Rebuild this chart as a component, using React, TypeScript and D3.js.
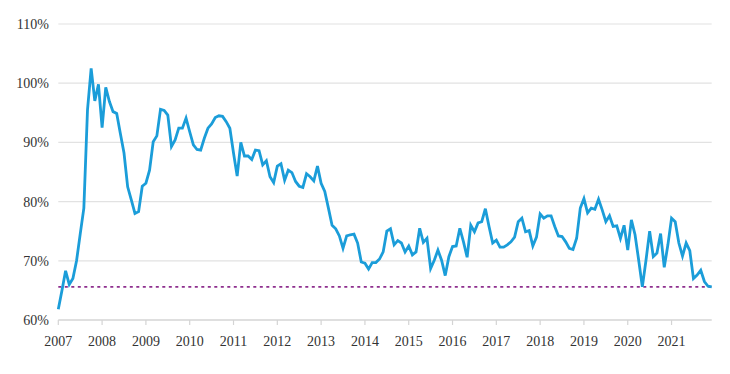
import { useEffect, useRef } from "react";
import * as d3 from "d3";

// monthly values, Jan 2007 .. Dec 2021 (%)
const values2007to2011 = [
  61.8, 65.0, 68.3, 66.0, 67.0, 70.0, 74.5, 78.9, 95.5, 102.5, 97.0, 99.8,
  92.5, 99.3, 96.9, 95.2, 94.9, 91.5, 88.2, 82.5, 80.3, 78.0, 78.3, 82.6,
  83.1, 85.3, 90.1, 91.1, 95.6, 95.4, 94.6, 89.3, 90.4, 92.4, 92.4, 94.1,
  91.8, 89.6, 88.8, 88.7, 90.7, 92.4, 93.1, 94.2, 94.5, 94.4, 93.5, 92.4,
  88.2, 84.3, 90.0, 87.7, 87.7, 87.1, 88.7, 88.6, 86.2, 86.9, 84.2, 83.2,
];
const values2012to2016 = [
  86.0, 86.4, 83.6, 85.3, 84.9, 83.4, 82.6, 82.4, 84.7, 84.2, 83.5, 86.0,
  83.1, 81.7, 78.9, 76.0, 75.4, 74.2, 72.1, 74.2, 74.4, 74.5, 73.0, 69.8,
  69.6, 68.6, 69.7, 69.7, 70.3, 71.5, 75.0, 75.4, 72.7, 73.4, 73.0, 71.5,
  72.5, 71.0, 71.5, 75.5, 73.1, 73.8, 68.7, 70.1, 71.8, 70.1, 67.5, 70.7,
  72.4, 72.5, 75.5, 73.2, 70.6, 76.0, 74.9, 76.4, 76.6, 78.8, 75.8, 73.0,
];
const values2017to2021 = [
  73.5, 72.3, 72.3, 72.7, 73.2, 74.0, 76.6, 77.2, 74.9, 75.1, 72.5, 74.0,
  77.9, 77.2, 77.6, 77.6, 75.8, 74.2, 74.1, 73.2, 72.1, 71.9, 73.8, 78.9,
  80.5, 78.1, 78.9, 78.7, 80.4, 78.6, 76.6, 77.6, 75.8, 75.9, 73.8, 76.0,
  71.8, 76.9, 74.4, 70.1, 65.6, 70.1, 75.0, 70.7, 71.3, 74.6, 68.9, 72.7,
  77.2, 76.6, 73.0, 70.8, 73.0, 71.7, 67.0, 67.6, 68.4, 66.5, 65.7, 65.6,
];
const values = [...values2007to2011, ...values2012to2016, ...values2017to2021];
const startYear = 2007;
const yearTicks = d3.range(2007, 2022);
const yTicks = [60, 70, 80, 90, 100, 110];
const reference = 65.6;

const labelFont = "'Liberation Serif', 'Times New Roman', 'DejaVu Serif', serif";

function App() {
  const svgRef = useRef<SVGSVGElement>(null);

  const width = 730;
  const height = 374;

  useEffect(() => {
    const svg = d3.select(svgRef.current);
    svg.selectAll("*").remove();

    const x = d3.scaleLinear().domain([startYear, startYear + 179 / 12]).range([58.3, 711.7]);
    const y = d3.scaleLinear().domain([60, 110]).range([320, 24]);

    // gridlines
    svg.append("g")
      .selectAll("line")
      .data(yTicks)
      .join("line")
      .attr("x1", x(startYear))
      .attr("x2", x(startYear + 179 / 12))
      .attr("y1", (d) => y(d))
      .attr("y2", (d) => y(d))
      .attr("stroke", (d) => (d === 60 ? "#d4d4d4" : "#e2e2e2"))
      .attr("stroke-width", (d) => (d === 60 ? 1.5 : 1.2));

    // y labels
    svg.append("g")
      .selectAll("text")
      .data(yTicks)
      .join("text")
      .attr("x", 49)
      .attr("y", (d) => y(d))
      .attr("dy", "0.35em")
      .attr("text-anchor", "end")
      .style("font-family", labelFont)
      .attr("font-size", 14)
      .attr("fill", "#333")
      .text((d) => `${d}%`);

    // x ticks
    svg.append("g")
      .selectAll("line")
      .data(yearTicks)
      .join("line")
      .attr("x1", (d) => x(d))
      .attr("x2", (d) => x(d))
      .attr("y1", y(60))
      .attr("y2", y(60) + 5)
      .attr("stroke", "#d4d4d4")
      .attr("stroke-width", 1.2);

    svg.append("g")
      .selectAll("text")
      .data(yearTicks)
      .join("text")
      .attr("x", (d) => x(d))
      .attr("y", 346)
      .attr("text-anchor", "middle")
      .style("font-family", labelFont)
      .attr("font-size", 14)
      .attr("fill", "#333")
      .text((d) => d);

    // reference line
    svg.append("line")
      .attr("x1", x(startYear))
      .attr("x2", x(startYear + 179 / 12))
      .attr("y1", y(reference))
      .attr("y2", y(reference))
      .attr("stroke", "#8e2f8e")
      .attr("stroke-width", 1.6)
      .attr("stroke-dasharray", "3,3.5");

    const line = d3.line<number>()
      .x((d, i) => x(startYear + i / 12))
      .y((d) => y(d));

    svg.append("path")
      .datum(values)
      .attr("d", line)
      .attr("fill", "none")
      .attr("stroke", "#1b9dd9")
      .attr("stroke-width", 2.8)
      .attr("stroke-linejoin", "miter");
  }, []);

  return (
    <svg
      ref={svgRef}
      width={width}
      height={height}
      viewBox={`0 0 ${width} ${height}`}
      style={{ position: "absolute", left: 0, top: 0, background: "#fff" }}
    />
  );
}

export default App;
